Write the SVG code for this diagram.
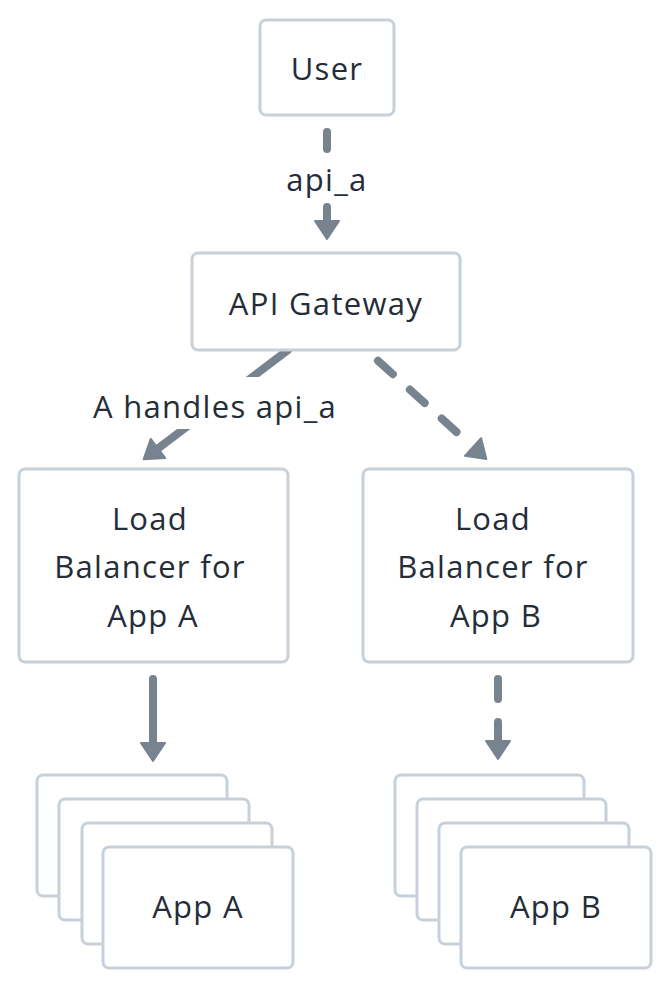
<svg xmlns="http://www.w3.org/2000/svg" width="670" height="988" viewBox="0 0 670 988">
  <style>
    .box { fill: #ffffff; stroke: #c8d0d9; stroke-width: 3; }
    .lbl { font-family: "Open Sans", "Liberation Sans", sans-serif; font-size: 31px; fill: #242d38; text-anchor: middle; letter-spacing: 1.3px; }
    .edge { fill: none; stroke: #77838f; stroke-width: 8; stroke-linecap: round; }
    .dash { stroke-dasharray: 20 23; }
    .bg { fill: #ffffff; }
  </style>
  <defs>
    <marker id="arrow" markerUnits="userSpaceOnUse" markerWidth="24" markerHeight="32" viewBox="-2 -16 24 32" refX="0" refY="0" orient="auto">
      <path d="M0,-12 L18,0 L0,12 z" fill="#77838f" stroke="#77838f" stroke-width="2" stroke-linejoin="round"/>
    </marker>
  </defs>
  <rect width="670" height="988" fill="#ffffff"/>

  <g id="connectors">
    <g id="edge-user-gateway">
      <path class="edge" d="M327,132 V221" stroke-dasharray="17 58 14 100" marker-end="url(#arrow)"/>
      <text class="lbl" x="327" y="191">api_a</text>
    </g>
    <g id="edge-gateway-lbA">
      <path class="edge" d="M288,350 L158,448.5" marker-end="url(#arrow)"/>
      <rect class="bg" x="88" y="377" width="254" height="52"/>
      <text class="lbl" x="215" y="418">A handles api_a</text>
    </g>
    <g id="edge-gateway-lbB">
      <path class="edge dash" d="M378,360.7 L473,447" marker-end="url(#arrow)"/>
    </g>
    <g id="edge-lbA-appA">
      <path class="edge" d="M153,679 V743" marker-end="url(#arrow)"/>
    </g>
    <g id="edge-lbB-appB">
      <path class="edge dash" d="M498,679 V741" marker-end="url(#arrow)"/>
    </g>
  </g>

  <g id="user">
    <rect class="box" x="260" y="20" width="134" height="95" rx="6"/>
    <text class="lbl" x="327" y="80">User</text>
  </g>

  <g id="api-gateway">
    <rect class="box" x="192" y="253" width="268" height="97" rx="6"/>
    <text class="lbl" x="326" y="315">API Gateway</text>
  </g>

  <g id="lb-a">
    <rect class="box" x="19" y="469" width="269" height="193" rx="6"/>
    <text class="lbl" x="150" y="530">Load</text>
    <text class="lbl" x="150" y="578">Balancer for</text>
    <text class="lbl" x="153" y="627">App A</text>
  </g>

  <g id="lb-b">
    <rect class="box" x="363" y="469" width="270" height="193" rx="6"/>
    <text class="lbl" x="493" y="530">Load</text>
    <text class="lbl" x="493" y="578">Balancer for</text>
    <text class="lbl" x="496" y="627">App B</text>
  </g>

  <g id="app-a">
    <rect class="box" x="37" y="775" width="190" height="121" rx="6"/>
    <rect class="box" x="59" y="799" width="190" height="121" rx="6"/>
    <rect class="box" x="82" y="823" width="190" height="121" rx="6"/>
    <rect class="box" x="103" y="847" width="190" height="121" rx="6"/>
    <text class="lbl" x="198" y="918">App A</text>
  </g>

  <g id="app-b">
    <rect class="box" x="395" y="775" width="189" height="121" rx="6"/>
    <rect class="box" x="417" y="799" width="189" height="121" rx="6"/>
    <rect class="box" x="439" y="823" width="190" height="121" rx="6"/>
    <rect class="box" x="461" y="847" width="190" height="121" rx="6"/>
    <text class="lbl" x="556" y="918">App B</text>
  </g>
</svg>
